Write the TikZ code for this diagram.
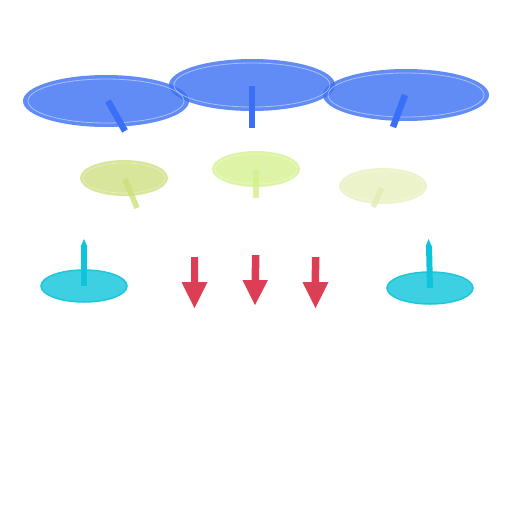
\documentclass[tikz,border=0pt]{standalone}
\usetikzlibrary{arrows.meta}
\definecolor{topfill}{HTML}{3A6FF4}
\definecolor{topstub}{HTML}{3A6FF8}
\definecolor{midA}{HTML}{D8E69C}
\definecolor{midB}{HTML}{DDF4A7}
\definecolor{midC}{HTML}{ECF3CB}
\definecolor{stubA}{HTML}{CBE07A}
\definecolor{stubB}{HTML}{D2EF8C}
\definecolor{stubC}{HTML}{E2ECB4}
\definecolor{cyanfill}{HTML}{3CD0E2}
\definecolor{cyanline}{HTML}{1EC6DC}
\definecolor{cyanstub}{HTML}{0FC4DA}
\definecolor{redarrow}{HTML}{DC3F55}
\tikzset{
  topell/.style={fill=topfill, fill opacity=0.8},
  innerring/.style={draw=white, draw opacity=0.45, line width=0.8pt},
  stub/.style={line width=6.5pt},
  redarr/.style={fill=redarrow}
}
\begin{document}
\begin{tikzpicture}[x=1pt,y=-1pt]
\useasboundingbox (0,0) rectangle (512,512);
% top ellipses
\coordinate (t1) at (106,101);
\coordinate (t2) at (252,85);
\coordinate (t3) at (406,95);
\foreach \c in {t1,t2,t3}{
  \fill[topell] (\c) ellipse [x radius=83, y radius=26];
}
\foreach \c in {t1,t2,t3}{
  \draw[innerring] (\c) ellipse [x radius=78, y radius=22];
}
\draw[stub,topstub] (108,101) -- (125,131);
\draw[stub,topstub] (252,86) -- (252,128);
\draw[stub,topstub] (405,95) -- (393,127);
% middle ellipses
\coordinate (m1) at (124,178);
\coordinate (m2) at (256,169);
\coordinate (m3) at (383,186);
\fill[midA] (m1) ellipse [x radius=44, y radius=18];
\draw[draw=white, draw opacity=0.3, line width=0.8pt] (m1) ellipse [x radius=41, y radius=15];
\fill[midB] (m2) ellipse [x radius=44, y radius=18];
\draw[draw=white, draw opacity=0.3, line width=0.8pt] (m2) ellipse [x radius=41, y radius=15];
\fill[midC] (m3) ellipse [x radius=44, y radius=18];
\draw[draw=white, draw opacity=0.3, line width=0.8pt] (m3) ellipse [x radius=41, y radius=15];
\draw[line width=5.5pt,stubA,draw opacity=0.8] (125,179) -- (137,208);
\draw[line width=5.5pt,stubB,draw opacity=0.8] (256,170) -- (256,198);
\draw[line width=5.5pt,stubC,draw opacity=0.8] (382,188) -- (373,207);
% bottom ellipses
\coordinate (b1) at (84,286);
\coordinate (b2) at (430,288);
\fill[cyanfill, draw=cyanline, line width=1.5pt] (b1) ellipse [x radius=43, y radius=16];
\fill[cyanfill, draw=cyanline, line width=1.5pt] (b2) ellipse [x radius=43, y radius=16];
\draw[line width=6pt,cyanstub] (84,286) -- (84,246);
\fill[cyanstub] (80.5,247) -- (84,239) -- (87.5,247) -- cycle;
\draw[line width=6pt,cyanstub] (430,288) -- (429,246);
\fill[cyanstub] (425.5,247) -- (428.5,239) -- (432,247) -- cycle;
% red arrows
\fill[redarr] (191,257) -- (198,257) -- (198,282) -- (207.5,282) -- (194.5,308) -- (181.5,282) -- (191,282) -- cycle;
\fill[redarr] (252,255) -- (259.5,255) -- (259,280) -- (268,280) -- (255,305) -- (242.5,280) -- (251.5,280) -- cycle;
\fill[redarr] (312,257) -- (319.5,257) -- (319,282) -- (328.5,282) -- (315.5,308) -- (302.5,282) -- (311.5,282) -- cycle;
\end{tikzpicture}
\end{document}
